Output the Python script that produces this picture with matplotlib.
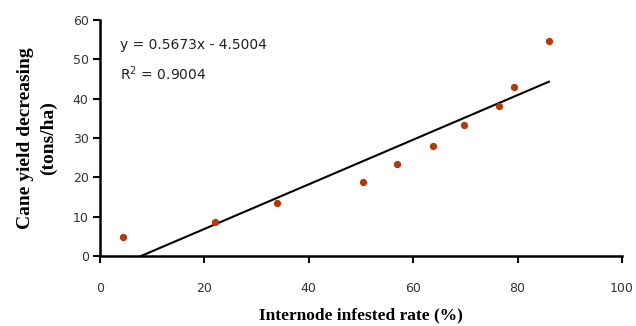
import matplotlib
matplotlib.use("Agg")
import matplotlib.pyplot as plt
import numpy as np

# infested rate (%) and yield loss (tons/ha)
infested = [4.4, 22.0, 33.9, 50.4, 56.9, 63.8, 69.7, 76.4, 79.3, 86.0]
yield_loss = [4.8, 8.6, 13.5, 18.8, 23.4, 28.0, 33.3, 38.2, 43.0, 54.7]

slope = 0.5673
intercept = -4.5004
r2 = 0.9004

xticks = [0, 20, 40, 60, 80, 100]
yticks = [0, 10, 20, 30, 40, 50, 60]

fig = plt.figure(figsize=(6.36, 3.26), dpi=100)
ax = fig.add_axes([0.157, 0.215, 0.821, 0.724])

ax.scatter(infested, yield_loss, s=18, color="#B33A0C", zorder=3)

# trend line from the fitted equation, from y=0 to last point
x0 = -intercept / slope
xs = np.array([x0, max(infested)])
ax.plot(xs, slope * xs + intercept, color="black", lw=1.5)

ax.set_xlim(0, 100)
ax.set_ylim(0, 60)
ax.set_xticks(xticks)
ax.set_yticks(yticks)

for s in ["top", "right"]:
    ax.spines[s].set_visible(False)
for s in ["left", "bottom"]:
    ax.spines[s].set_linewidth(1.8)
    ax.spines[s].set_color("black")

ax.tick_params(axis="both", direction="out", length=5, width=1.5,
               labelsize=9, labelcolor="#333333")
ax.tick_params(axis="x", pad=14)
ax.tick_params(axis="y", pad=3)

ax.set_xlabel("Internode infested rate (%)", family="Liberation Serif",
              weight="bold", fontsize=12.5, labelpad=9)
ax.set_ylabel("Cane yield decreasing\n(tons/ha)", family="Liberation Serif",
              weight="bold", fontsize=14, labelpad=11, linespacing=1.45)

ax.text(3.8, 53.7, "y = 0.5673x - 4.5004", fontsize=10, color="#222222",
        va="center", ha="left")
ax.text(3.8, 46.3, "R$^2$ = %.4f" % r2, fontsize=10, color="#222222",
        va="center", ha="left")

fig.savefig("out.png", dpi=100)
